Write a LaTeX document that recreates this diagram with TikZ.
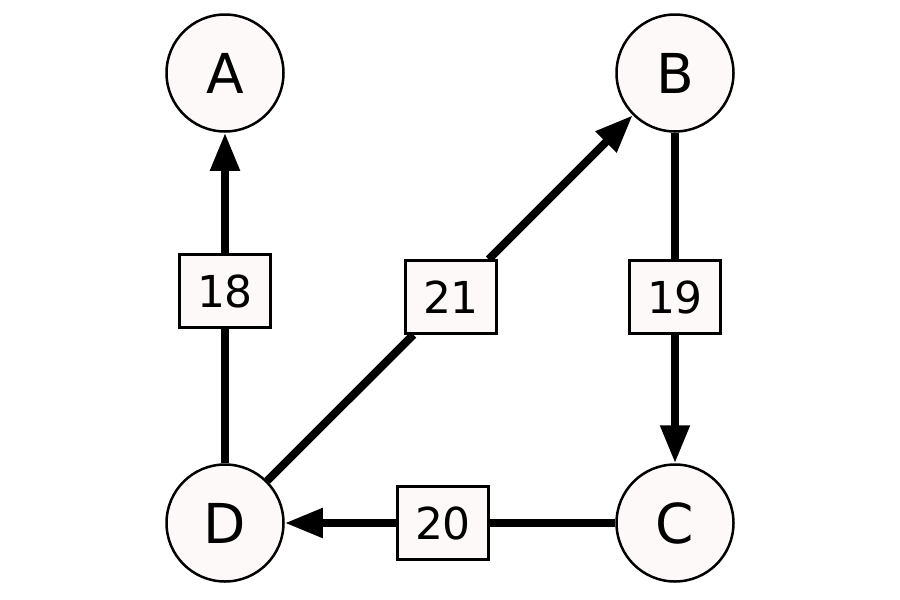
\documentclass[tikz,border=0pt]{standalone}
\usepackage{fontspec}
\setmainfont{DejaVu Sans}
\usetikzlibrary{arrows.meta}
\definecolor{nodefill}{RGB}{253,249,248}
\begin{document}
\begin{tikzpicture}[x=1pt,y=-1pt,
  vert/.style={circle, draw, line width=2.5pt, fill=nodefill, minimum size=117pt, inner sep=0pt, font=\fontsize{55}{55}\selectfont},
  wbox/.style={rectangle, draw, line width=2.5pt, fill=nodefill, minimum width=91pt, minimum height=73pt, inner sep=0pt, font=\fontsize{44}{44}\selectfont},
  edge/.style={line width=8pt},
  arr/.style={edge, -{Triangle[length=38pt,width=28pt]}}]
\fill[white] (0,0) rectangle (900,600);
\useasboundingbox (0,0) rectangle (900,600);
\node[vert] (A) at (225,73) {A};
\node[vert] (B) at (675,73) {B};
\node[vert] (C) at (675,523) {C};
\node[vert] (D) at (225,523) {D};
\node[wbox] (l18) at (225,291) {18};
\node[wbox] (l21) at (451,297) {21};
\node[wbox] (l19) at (675,297) {19};
\node[wbox] (l20) at (443,523) {20};
\draw[edge] (D) -- (l18);
\draw[arr] (l18) -- (A);
\draw[edge] (D) -- (l21);
\draw[arr] (l21) -- (B);
\draw[edge] (B) -- (l19);
\draw[arr] (l19) -- (C);
\draw[edge] (C) -- (l20);
\draw[arr] (l20) -- (D);
\end{tikzpicture}
\end{document}
